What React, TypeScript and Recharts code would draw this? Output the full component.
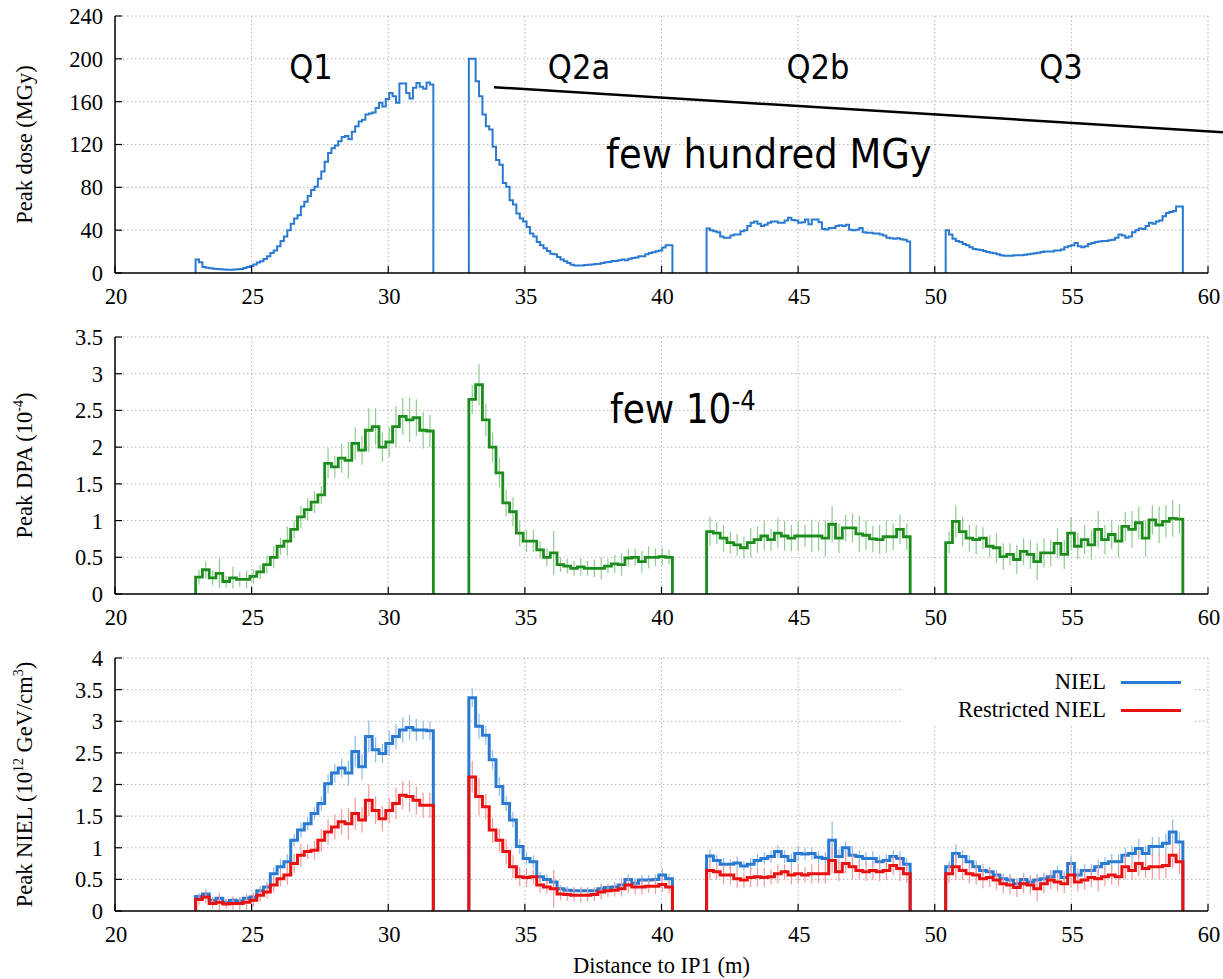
import React from 'react';
import { LineChart, Line, XAxis, YAxis, CartesianGrid, ErrorBar, ReferenceLine, Legend, Label } from 'recharts';

// ---------------- data ----------------
const segmentNames = ['Q1', 'Q2a', 'Q2b', 'Q3'];
const segmentStart = [22.95, 32.95, 41.65, 50.4];
const segmentEnd = [31.65, 40.4, 49.1, 59.08];

const xTicks = [20, 25, 30, 35, 40, 45, 50, 55, 60];
const doseTicks = [0, 40, 80, 120, 160, 200, 240];
const dpaTicks = [0, 0.5, 1, 1.5, 2, 2.5, 3, 3.5];
const nielTicks = [0, 0.5, 1, 1.5, 2, 2.5, 3, 3.5, 4];

// Peak dose (MGy)
const doseQ1 = [12.5, 10, 5.6, 5, 4.4, 4, 3.8, 3.5, 3.2, 3, 3, 3.2, 3.5, 3.8, 4.7, 5.6, 6.5, 8, 9.7, 11, 13, 15.6, 18.7, 21, 25, 30, 34, 40, 46, 51, 54, 62, 66.5, 72, 77.5, 80.6, 88, 94.7, 104, 112, 116.5, 119, 123, 127, 128, 125, 132, 137, 141.5, 143, 148, 149, 150, 154, 159, 155.6, 162.5, 168, 165, 159, 177, 177, 168, 163, 173, 177.5, 174, 172, 178, 176];
const doseQ2a = [200, 200, 179, 165, 148, 137, 134, 118, 105.6, 101, 84, 80.6, 68, 64, 55.6, 51, 48, 43, 37, 34, 29, 26, 23, 20.6, 18, 17.5, 15, 12.5, 11, 9.4, 7.8, 7, 7, 7, 7.5, 7.8, 8, 8.4, 8.7, 9.4, 10, 10.3, 11.2, 11.2, 11.9, 12.5, 11.9, 13.4, 14, 14.4, 15.6, 15.6, 17.5, 18.7, 19.4, 20.3, 21, 23.7, 26, 26];
const doseQ2b = [41.5, 40, 39, 38, 34, 33, 33, 35, 36, 36, 39, 40, 44, 47, 48, 46, 44, 45, 47, 48, 48, 47, 47, 49, 51.5, 49.5, 49, 47, 47.5, 50, 45.5, 50, 50, 47.5, 41, 40.6, 42, 42, 44, 44.5, 44, 45, 40.5, 40, 40.5, 42, 38, 37.5, 37.5, 37, 37, 36, 35, 33, 32.5, 32, 32.5, 31.5, 31, 29.5];
const doseQ3 = [40, 36, 32, 30, 29, 27, 26, 24, 22.5, 22, 21.5, 20.5, 19.5, 19, 18.5, 17.5, 16.5, 16, 16, 16, 16.5, 16.5, 16.5, 17, 17.5, 18, 18.5, 19, 19.5, 20, 20, 20, 21, 21, 22, 24, 25, 26, 28, 25, 24, 25, 27, 28, 29, 29.5, 30, 30, 30.5, 31, 33, 36, 35, 33, 34, 38, 40, 41.5, 41, 44, 47, 46, 48, 49, 53, 56, 57, 58, 62, 62];

// Peak DPA (1e-4)
const dpaQ1 = [0.23, 0.33, 0.22, 0.28, 0.17, 0.22, 0.2, 0.2, 0.24, 0.3, 0.4, 0.5, 0.65, 0.72, 0.88, 1.05, 1.15, 1.25, 1.35, 1.78, 1.73, 1.85, 1.82, 2.05, 1.96, 2.23, 2.28, 2.0, 2.07, 2.28, 2.42, 2.37, 2.4, 2.23, 2.22];
const dpaQ2a = [2.65, 2.85, 2.37, 2.0, 1.65, 1.24, 1.12, 0.83, 0.72, 0.72, 0.6, 0.5, 0.56, 0.4, 0.38, 0.35, 0.37, 0.35, 0.35, 0.35, 0.38, 0.41, 0.4, 0.49, 0.5, 0.44, 0.5, 0.5, 0.51, 0.5];
const dpaQ2b = [0.85, 0.83, 0.76, 0.7, 0.67, 0.63, 0.7, 0.74, 0.79, 0.74, 0.83, 0.79, 0.76, 0.79, 0.79, 0.79, 0.79, 0.76, 0.95, 0.76, 0.9, 0.9, 0.82, 0.8, 0.75, 0.74, 0.78, 0.78, 0.88, 0.78];
const dpaQ3 = [0.7, 0.99, 0.85, 0.76, 0.74, 0.76, 0.65, 0.63, 0.51, 0.54, 0.47, 0.58, 0.54, 0.44, 0.56, 0.56, 0.69, 0.54, 0.83, 0.65, 0.74, 0.67, 0.88, 0.74, 0.81, 0.72, 0.92, 0.88, 0.97, 0.76, 1.01, 0.94, 0.99, 1.03, 1.02];
const dpaErrQ1 = [0.1, 0.12, 0.1, 0.2, 0.08, 0.15, 0.1, 0.12, 0.1, 0.1, 0.12, 0.15, 0.12, 0.2, 0.12, 0.15, 0.15, 0.15, 0.12, 0.2, 0.15, 0.2, 0.25, 0.22, 0.2, 0.3, 0.25, 0.2, 0.2, 0.28, 0.25, 0.3, 0.25, 0.25, 0.22];
const dpaErrQ2a = [0.2, 0.28, 0.22, 0.2, 0.2, 0.18, 0.2, 0.18, 0.15, 0.15, 0.12, 0.12, 0.3, 0.1, 0.1, 0.1, 0.12, 0.1, 0.12, 0.15, 0.1, 0.12, 0.15, 0.12, 0.12, 0.15, 0.15, 0.12, 0.12, 0.1];
const dpaErrQ2b = [0.2, 0.15, 0.18, 0.15, 0.15, 0.15, 0.2, 0.18, 0.2, 0.15, 0.2, 0.2, 0.18, 0.2, 0.15, 0.22, 0.2, 0.25, 0.25, 0.2, 0.18, 0.2, 0.25, 0.2, 0.18, 0.2, 0.22, 0.18, 0.2, 0.18];
const dpaErrQ3 = [0.15, 0.22, 0.2, 0.18, 0.2, 0.15, 0.15, 0.2, 0.18, 0.15, 0.2, 0.18, 0.2, 0.25, 0.2, 0.18, 0.2, 0.2, 0.22, 0.18, 0.2, 0.2, 0.25, 0.2, 0.2, 0.22, 0.2, 0.25, 0.22, 0.25, 0.2, 0.25, 0.22, 0.25, 0.2];

// Peak NIEL (1e12 GeV/cm3)
const nielQ1 = [0.23, 0.27, 0.17, 0.2, 0.14, 0.17, 0.16, 0.2, 0.22, 0.32, 0.38, 0.59, 0.7, 0.78, 1.12, 1.28, 1.38, 1.54, 1.7, 2.01, 2.18, 2.26, 2.18, 2.52, 2.28, 2.76, 2.55, 2.49, 2.65, 2.76, 2.86, 2.9, 2.86, 2.86, 2.85];
const nielQ2a = [3.37, 2.92, 2.78, 2.39, 1.97, 1.7, 1.44, 1.02, 0.83, 0.78, 0.54, 0.5, 0.46, 0.35, 0.33, 0.32, 0.32, 0.32, 0.32, 0.35, 0.37, 0.38, 0.41, 0.5, 0.44, 0.49, 0.49, 0.5, 0.57, 0.51];
const nielQ2b = [0.87, 0.8, 0.74, 0.74, 0.76, 0.71, 0.74, 0.8, 0.83, 0.86, 0.94, 0.86, 0.8, 0.91, 0.9, 0.91, 0.85, 0.83, 1.12, 0.86, 1.0, 0.88, 0.86, 0.83, 0.83, 0.78, 0.8, 0.86, 0.83, 0.74];
const nielQ3 = [0.7, 0.91, 0.86, 0.78, 0.7, 0.64, 0.62, 0.57, 0.51, 0.49, 0.43, 0.5, 0.46, 0.49, 0.51, 0.54, 0.62, 0.53, 0.75, 0.57, 0.64, 0.64, 0.7, 0.75, 0.78, 0.78, 0.88, 0.91, 0.99, 0.91, 1.02, 1.02, 1.07, 1.25, 1.09];
const nielErrQ1 = [0.05, 0.08, 0.05, 0.08, 0.05, 0.06, 0.06, 0.07, 0.07, 0.08, 0.08, 0.1, 0.12, 0.12, 0.1, 0.12, 0.1, 0.1, 0.12, 0.15, 0.15, 0.15, 0.2, 0.25, 0.2, 0.25, 0.2, 0.15, 0.2, 0.2, 0.2, 0.2, 0.18, 0.15, 0.15];
const nielErrQ2a = [0.15, 0.2, 0.15, 0.15, 0.15, 0.12, 0.12, 0.12, 0.1, 0.1, 0.08, 0.08, 0.1, 0.06, 0.06, 0.06, 0.06, 0.06, 0.06, 0.08, 0.06, 0.08, 0.1, 0.08, 0.08, 0.08, 0.08, 0.08, 0.1, 0.08];
const nielErrQ2b = [0.1, 0.08, 0.1, 0.08, 0.1, 0.08, 0.1, 0.1, 0.1, 0.1, 0.1, 0.1, 0.1, 0.12, 0.1, 0.1, 0.1, 0.1, 0.3, 0.12, 0.1, 0.15, 0.1, 0.1, 0.12, 0.1, 0.1, 0.1, 0.12, 0.1];
const nielErrQ3 = [0.1, 0.15, 0.1, 0.1, 0.1, 0.1, 0.08, 0.08, 0.08, 0.1, 0.08, 0.1, 0.1, 0.1, 0.1, 0.1, 0.1, 0.1, 0.12, 0.1, 0.1, 0.1, 0.12, 0.1, 0.12, 0.12, 0.12, 0.12, 0.15, 0.12, 0.15, 0.15, 0.15, 0.2, 0.15];

// Restricted NIEL
const rnielQ1 = [0.18, 0.22, 0.12, 0.14, 0.11, 0.12, 0.12, 0.14, 0.17, 0.25, 0.3, 0.41, 0.51, 0.57, 0.75, 0.88, 0.94, 0.96, 1.12, 1.25, 1.33, 1.41, 1.38, 1.54, 1.44, 1.75, 1.59, 1.46, 1.59, 1.7, 1.83, 1.81, 1.75, 1.67, 1.67];
const rnielQ2a = [2.12, 1.81, 1.65, 1.28, 1.12, 0.94, 0.7, 0.54, 0.53, 0.54, 0.41, 0.38, 0.35, 0.27, 0.26, 0.25, 0.25, 0.25, 0.26, 0.3, 0.32, 0.33, 0.35, 0.41, 0.38, 0.38, 0.39, 0.39, 0.42, 0.38];
const rnielQ2b = [0.64, 0.62, 0.57, 0.57, 0.51, 0.49, 0.53, 0.54, 0.53, 0.54, 0.59, 0.62, 0.57, 0.59, 0.57, 0.59, 0.59, 0.59, 0.8, 0.62, 0.75, 0.7, 0.64, 0.62, 0.64, 0.62, 0.64, 0.72, 0.67, 0.59];
const rnielQ3 = [0.59, 0.7, 0.64, 0.59, 0.57, 0.51, 0.53, 0.49, 0.43, 0.41, 0.37, 0.43, 0.41, 0.35, 0.43, 0.49, 0.46, 0.43, 0.57, 0.46, 0.49, 0.53, 0.51, 0.54, 0.57, 0.54, 0.7, 0.64, 0.75, 0.67, 0.7, 0.7, 0.72, 0.88, 0.78];
const rnielErrQ1 = [0.08, 0.1, 0.08, 0.15, 0.08, 0.1, 0.1, 0.12, 0.1, 0.1, 0.1, 0.12, 0.12, 0.15, 0.15, 0.18, 0.12, 0.15, 0.18, 0.2, 0.2, 0.2, 0.25, 0.25, 0.2, 0.25, 0.22, 0.2, 0.2, 0.25, 0.22, 0.25, 0.22, 0.2, 0.2];
const rnielErrQ2a = [0.25, 0.3, 0.2, 0.2, 0.18, 0.2, 0.18, 0.15, 0.15, 0.12, 0.12, 0.1, 0.3, 0.1, 0.1, 0.1, 0.12, 0.1, 0.1, 0.12, 0.1, 0.1, 0.12, 0.12, 0.12, 0.12, 0.1, 0.12, 0.12, 0.1];
const rnielErrQ2b = [0.15, 0.12, 0.15, 0.15, 0.15, 0.12, 0.15, 0.15, 0.15, 0.12, 0.15, 0.12, 0.15, 0.15, 0.12, 0.15, 0.15, 0.15, 0.2, 0.15, 0.15, 0.2, 0.15, 0.15, 0.15, 0.15, 0.15, 0.15, 0.2, 0.15];
const rnielErrQ3 = [0.15, 0.2, 0.15, 0.15, 0.15, 0.15, 0.15, 0.15, 0.15, 0.15, 0.15, 0.15, 0.15, 0.2, 0.15, 0.15, 0.15, 0.15, 0.2, 0.15, 0.15, 0.15, 0.2, 0.15, 0.15, 0.15, 0.2, 0.15, 0.2, 0.15, 0.2, 0.2, 0.2, 0.2, 0.2];

// annotation leader line (data coordinates of the top panel)
const leaderStart = { x: 33.87, y: 173.5 };
const leaderEnd = { x: 60.55, y: 131.4 };

// ---------------- styling ----------------
const SERIF = "'Liberation Serif', 'Times New Roman', Times, serif";
const SANS = "'DejaVu Sans', Verdana, sans-serif";
const FS = 22.5;
const TICK_LEN = 7;
const X_GAP = 15;
const Y_GAP = 12;
const AXIS_LINE = { stroke: '#000', strokeWidth: 1.5 };
const BLUE = '#2a7ad2';
const GREEN = '#1c8c1c';
const RED = '#e81010';

type Pt = { x: number; y: number | null; err?: number };

function stepSeries(parts: number[][]): Pt[] {
  const out: Pt[] = [];
  parts.forEach((vals, k) => {
    const s = segmentStart[k];
    const e = segmentEnd[k];
    const w = (e - s) / vals.length;
    out.push({ x: s, y: 0 });
    vals.forEach((v, i) => out.push({ x: s + i * w, y: v }));
    out.push({ x: e, y: vals[vals.length - 1] });
    out.push({ x: e, y: 0 });
    if (k < parts.length - 1) out.push({ x: (e + segmentStart[k + 1]) / 2, y: null });
  });
  return out;
}

function errorSeries(parts: number[][], errs: number[][]): Pt[] {
  const out: Pt[] = [];
  parts.forEach((vals, k) => {
    const s = segmentStart[k];
    const w = (segmentEnd[k] - s) / vals.length;
    vals.forEach((v, i) => out.push({ x: s + (i + 0.5) * w, y: v, err: errs[k][i] }));
  });
  return out;
}

const doseSteps = stepSeries([doseQ1, doseQ2a, doseQ2b, doseQ3]);
const dpaSteps = stepSeries([dpaQ1, dpaQ2a, dpaQ2b, dpaQ3]);
const dpaErrors = errorSeries([dpaQ1, dpaQ2a, dpaQ2b, dpaQ3], [dpaErrQ1, dpaErrQ2a, dpaErrQ2b, dpaErrQ3]);
const nielSteps = stepSeries([nielQ1, nielQ2a, nielQ2b, nielQ3]);
const nielErrors = errorSeries([nielQ1, nielQ2a, nielQ2b, nielQ3], [nielErrQ1, nielErrQ2a, nielErrQ2b, nielErrQ3]);
const rnielSteps = stepSeries([rnielQ1, rnielQ2a, rnielQ2b, rnielQ3]);
const rnielErrors = errorSeries([rnielQ1, rnielQ2a, rnielQ2b, rnielQ3], [rnielErrQ1, rnielErrQ2a, rnielErrQ2b, rnielErrQ3]);

// ---------------- ticks ----------------
const BottomTick = (p: any) => (
  <g>
    <line x1={p.x} x2={p.x} y1={p.y - X_GAP} y2={p.y - X_GAP - TICK_LEN} stroke="#000" strokeWidth={1.2} />
    <text x={p.x + 1} y={p.y} dy="0.71em" textAnchor="middle" fontFamily={SERIF} fontSize={FS} fill="#000">
      {p.payload.value}
    </text>
  </g>
);
const TopTick = (p: any) => (
  <line x1={p.x} x2={p.x} y1={p.y} y2={p.y + TICK_LEN} stroke="#000" strokeWidth={1.2} />
);
const LeftTick = (p: any) => (
  <g>
    <line x1={p.x + Y_GAP} x2={p.x + Y_GAP + TICK_LEN} y1={p.y} y2={p.y} stroke="#000" strokeWidth={1.2} />
    <text x={p.x} y={p.y} dy="0.355em" textAnchor="end" fontFamily={SERIF} fontSize={FS} fill="#000">
      {p.payload.value}
    </text>
  </g>
);
const RightTick = (p: any) => (
  <line x1={p.x} x2={p.x - TICK_LEN} y1={p.y} y2={p.y} stroke="#000" strokeWidth={1.2} />
);

type Part = [string, boolean];
const yTitle = (parts: Part[]) => (props: any) => {
  const vb = props.viewBox || { y: 0, height: 0 };
  const cy = vb.y + vb.height / 2;
  const nodes: React.ReactNode[] = [];
  let raised = false;
  parts.forEach(([t, sup], i) => {
    if (sup) {
      nodes.push(<tspan key={i} fontSize={14} dy={-9}>{t}</tspan>);
      raised = true;
    } else {
      nodes.push(<tspan key={i} dy={raised ? 9 : 0}>{t}</tspan>);
      raised = false;
    }
  });
  return (
    <text transform={`translate(31.5, ${cy}) rotate(-90)`} textAnchor="middle" fontFamily={SERIF} fontSize={FS} fill="#000">
      {nodes}
    </text>
  );
};

const xTitle = (props: any) => {
  const vb = props.viewBox || { x: 0, y: 0, width: 0 };
  return (
    <text x={vb.x + vb.width / 2} y={vb.y + 62} textAnchor="middle" fontFamily={SERIF} fontSize={FS} fill="#000">
      Distance to IP1 (m)
    </text>
  );
};

function axes(yDomain: [number, number], yTicks: number[], title: Part[], xAxisHeight: number, withXTitle: boolean) {
  return [
    <CartesianGrid key="grid" stroke="#b4b4b4" strokeDasharray="1.5 2.5" strokeWidth={1} />,
    <XAxis key="xb" type="number" dataKey="x" domain={[20, 60]} ticks={xTicks} interval={0} allowDataOverflow
      height={xAxisHeight} tickSize={0} tickMargin={X_GAP} axisLine={AXIS_LINE} tick={(p: any) => <BottomTick {...p} />}>
      {withXTitle ? <Label content={xTitle} /> : null}
    </XAxis>,
    <XAxis key="xt" xAxisId="t" orientation="top" type="number" dataKey="x" domain={[20, 60]} ticks={xTicks} interval={0}
      allowDataOverflow height={0} tickSize={0} tickMargin={0} axisLine={AXIS_LINE} tick={(p: any) => <TopTick {...p} />} />,
    <YAxis key="yl" type="number" domain={yDomain} ticks={yTicks} interval={0} allowDataOverflow width={115}
      tickSize={0} tickMargin={Y_GAP} axisLine={AXIS_LINE} tick={(p: any) => <LeftTick {...p} />}>
      <Label content={yTitle(title)} />
    </YAxis>,
    <YAxis key="yr" yAxisId="r" orientation="right" type="number" domain={yDomain} ticks={yTicks} interval={0}
      allowDataOverflow width={0} tickSize={0} tickMargin={0} axisLine={AXIS_LINE} tick={(p: any) => <RightTick {...p} />} />,
  ];
}

const renderLegend = (props: any) => {
  const items = (props.payload || []).filter((it: any) => it.type !== 'none');
  return (
    <div style={{ position: 'relative', width: 293, height: 63, background: '#fff', fontFamily: SERIF, fontSize: FS, color: '#000' }}>
      {items.map((it: any, i: number) => (
        <div key={i}>
          <div style={{ position: 'absolute', right: 88, top: 21 + 28 * i - 13, height: 26, lineHeight: '26px', whiteSpace: 'nowrap' }}>
            {it.value}
          </div>
          <div style={{ position: 'absolute', left: 220, top: 21 + 28 * i - 1, width: 60, height: 3, background: it.color }} />
        </div>
      ))}
    </div>
  );
};

export default function App() {
  return (
    <div style={{ position: 'absolute', left: 0, top: 0, width: 1223, height: 979, background: '#fff', overflow: 'hidden' }}>
      {/* Peak dose */}
      <div style={{ position: 'absolute', left: 0, top: 0 }}>
        <LineChart width={1223} height={310} margin={{ top: 16, right: 15, left: 0, bottom: 7 }}>
          {axes([0, 240], doseTicks, [['Peak dose (MGy)', false]], 30, false)}
          <Line data={doseSteps} dataKey="y" type="stepAfter" stroke={BLUE} strokeWidth={2} dot={false}
            connectNulls={false} isAnimationActive={false} legendType="none" />
          <ReferenceLine segment={[leaderStart, leaderEnd]} stroke="#000" strokeWidth={2.5} ifOverflow="visible" />
        </LineChart>
      </div>

      {/* Peak DPA */}
      <div style={{ position: 'absolute', left: 0, top: 320 }}>
        <LineChart width={1223} height={310} margin={{ top: 17, right: 15, left: 0, bottom: 6 }}>
          {axes([0, 3.5], dpaTicks, [['Peak DPA (10', false], ['-4', true], [')', false]], 30, false)}
          <Line data={dpaErrors} dataKey="y" stroke="none" dot={false} isAnimationActive={false} legendType="none">
            <ErrorBar dataKey="err" width={0} stroke="#8fcc8f" strokeWidth={1.2} direction="y" />
          </Line>
          <Line data={dpaSteps} dataKey="y" type="stepAfter" stroke={GREEN} strokeWidth={2.8} dot={false}
            connectNulls={false} isAnimationActive={false} legendType="none" />
        </LineChart>
      </div>

      {/* Peak NIEL */}
      <div style={{ position: 'absolute', left: 0, top: 640 }}>
        <LineChart width={1223} height={339} margin={{ top: 18, right: 15, left: 0, bottom: 8 }}>
          {axes([0, 4], nielTicks, [['Peak NIEL (10', false], ['12', true], [' GeV/cm', false], ['3', true], [')', false]], 60, true)}
          <Line data={nielErrors} dataKey="y" stroke="none" dot={false} isAnimationActive={false} legendType="none">
            <ErrorBar dataKey="err" width={0} stroke="#8ebbe8" strokeWidth={1.2} direction="y" />
          </Line>
          <Line name="NIEL" data={nielSteps} dataKey="y" type="stepAfter" stroke={BLUE} strokeWidth={3} dot={false}
            connectNulls={false} isAnimationActive={false} legendType="line" />
          <Line data={rnielErrors} dataKey="y" stroke="none" dot={false} isAnimationActive={false} legendType="none">
            <ErrorBar dataKey="err" width={0} stroke="#f39a9a" strokeWidth={1.2} direction="y" />
          </Line>
          <Line name="Restricted NIEL" data={rnielSteps} dataKey="y" type="stepAfter" stroke={RED} strokeWidth={3} dot={false}
            connectNulls={false} isAnimationActive={false} legendType="line" />
          <Legend layout="horizontal" verticalAlign="middle" align="center" content={renderLegend}
            wrapperStyle={{ left: 901, top: 21, width: 293, height: 63, right: 'auto', bottom: 'auto' }} />
        </LineChart>
      </div>

      {/* magnet labels and annotations */}
      <svg width={1223} height={979} style={{ position: 'absolute', left: 0, top: 0, pointerEvents: 'none' }}>
        {segmentNames.map((n, i) => (
          <text key={n} transform={`translate(${[311, 579, 818, 1061][i]}, 79) scale(0.9, 1)`} textAnchor="middle"
            fontFamily={SANS} fontSize={34} fill="#000">{n}</text>
        ))}
        <text transform="translate(606, 168) scale(0.9, 1)" fontFamily={SANS} fontSize={41} fill="#000">few hundred MGy</text>
        <text transform="translate(610, 423) scale(0.9, 1)" fontFamily={SANS} fontSize={40} fill="#000">
          few 10<tspan fontSize={27} dy={-13}>-4</tspan>
        </text>
      </svg>
    </div>
  );
}
